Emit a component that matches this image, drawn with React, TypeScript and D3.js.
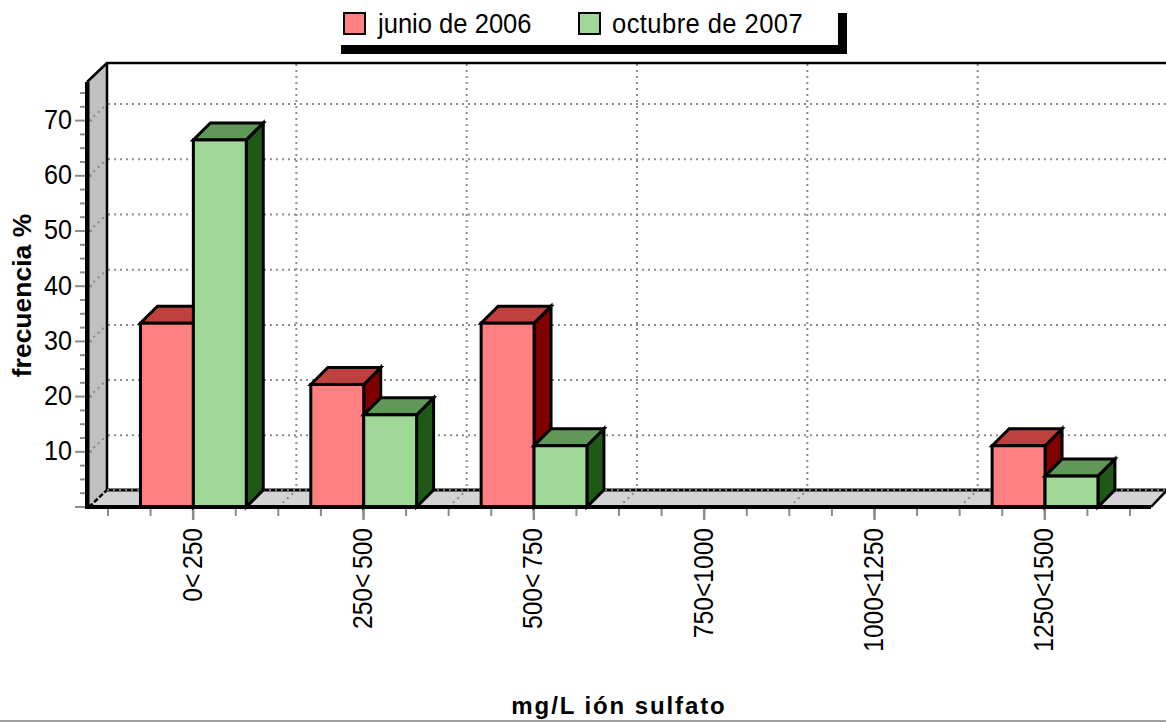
import React from "react";
import * as d3 from "d3";

const categories = ["0< 250", "250< 500", "500< 750", "750<1000", "1000<1250", "1250<1500"];
const seriesNames = ["junio de 2006", "octubre de 2007"];
const junio = [33.3, 22.2, 33.3, 0, 0, 11.1];
const octubre = [66.5, 16.7, 11.1, 0, 0, 5.6];
const majorTicks = [10, 20, 30, 40, 50, 60, 70];
const minorTicks = [2.5, 5, 7.5, 12.5, 15, 17.5, 22.5, 25, 27.5, 32.5, 35, 37.5, 42.5, 45, 47.5, 52.5, 55, 57.5, 62.5, 65, 67.5, 72.5, 75];
const colors = [
  { front: "#ff8080", top: "#c04040", side: "#800000" },
  { front: "#a0d898", top: "#609858", side: "#205818" },
];

const W = 1166, H = 722;
const DX = 17, DY = 17;
const x = d3.scaleBand<string>().domain(categories).range([108, 1130]);
const y = d3.scaleLinear().domain([0, 70]).range([507, 120.6]);
const inner = d3.scaleBand<number>().domain([0, 1]).range([-52.7, 53.1]);
const FONT = "'Liberation Sans', Arial, sans-serif";
const pts = (p: number[][]) => p.map((q) => q.join(",")).join(" ");
const grid = "#8c8c8c";

export default function App() {
  const edges = d3.range(categories.length + 1).map((i) => 108 + i * x.bandwidth());
  const xMinor = d3.range(0, 25).map((i) => 108 + (i * x.bandwidth()) / 4);
  const centers = categories.map((c) => (x(c) as number) + x.bandwidth() / 2);
  const series = [junio, octubre];
  return (
    <svg width={W} height={H} style={{ position: "absolute", left: 0, top: 0, background: "#fff" }} fontFamily={FONT}>
      {/* walls */}
      <polygon points={pts([[87, y(0)], [107, y(0) - DY], [107, 63], [87, 82]])} fill="#c0c0c0" />
      <polygon points={pts([[87, y(0)], [1151, y(0)], [1167, y(0) - DY], [107, y(0) - DY]])} fill="#d3d3d3" />
      {/* grid */}
      <g stroke={grid} strokeWidth={2} strokeDasharray="2 4" fill="none">
        {majorTicks.map((t) => (
          <g key={t}>
            <line x1={108} x2={W} y1={y(t) - 16.5} y2={y(t) - 16.5} />
            <line x1={89} x2={107} y1={y(t)} y2={y(t) - 16.5} />
          </g>
        ))}
        {edges.slice(1, 6).map((e) => (
          <g key={e}>
            <line x1={e + 18} x2={e + 18} y1={64} y2={490} />
            <line x1={e} x2={e + 18} y1={507} y2={490} />
          </g>
        ))}
      </g>
      {/* back edges */}
      <g fill="none" stroke="#000">
        <line x1={107} x2={107} y1={63} y2={490} strokeWidth={2.5} />
        <line x1={106} x2={W} y1={63} y2={63} strokeWidth={2.5} />
        <line x1={87} x2={107} y1={82} y2={63} strokeWidth={2.5} />
        <line x1={1151} x2={1167} y1={507} y2={490} strokeWidth={2.5} />
        <line x1={107} x2={W} y1={490} y2={490} strokeWidth={3} />
        <line x1={89} x2={107} y1={507} y2={490} strokeWidth={2.5} strokeDasharray="5 2" />
      </g>
      <line x1={107} x2={W} y1={490} y2={490} stroke="#9a9a9a" strokeWidth={1.5} strokeDasharray="2 4" />
      {/* axis ticks */}
      <g stroke={grid} strokeWidth={2}>
        {minorTicks.map((t) => <line key={t} x1={80} x2={86} y1={y(t)} y2={y(t)} />)}
        {majorTicks.map((t) => <line key={t} x1={75} x2={92} y1={y(t)} y2={y(t)} />)}
        <line x1={75} x2={92} y1={507} y2={507} />
        {xMinor.map((v) => <line key={v} x1={v} x2={v} y1={509} y2={516} />)}
        {centers.map((c) => <line key={c} x1={c} x2={c} y1={509} y2={520} strokeWidth={2.5} />)}
      </g>
      {/* bars */}
      <g stroke="#000" strokeWidth={3} strokeLinejoin="miter">
        {categories.map((c, i) =>
          series.map((vals, s) => {
            const v = vals[i];
            if (!v) return null;
            const l = centers[i] + (inner(s) as number);
            const r = l + inner.bandwidth();
            const t = y(v);
            const b = y(0);
            return (
              <g key={c + s}>
                <polygon points={pts([[r, t], [r + DX, t - DY], [r + DX, b - DY], [r, b]])} fill={colors[s].side} />
                <polygon points={pts([[l, t], [l + DX, t - DY], [r + DX, t - DY], [r, t]])} fill={colors[s].top} />
                <rect x={l} y={t} width={r - l} height={b - t} fill={colors[s].front} />
              </g>
            );
          })
        )}
      </g>
      {/* front axis */}
      <rect x={85} y={82} width={4.5} height={427} fill="#000" />
      <rect x={85} y={505} width={1066} height={4} fill="#000" />
      {/* tick labels */}
      <g fontSize={27.5} fill="#000">
        {majorTicks.map((t) => (
          <text key={t} transform={`translate(72,${y(t) - 1}) scale(0.915,1)`} textAnchor="end" dominantBaseline="central">{t}</text>
        ))}
      </g>
      <g fontSize={27.5} fill="#000" wordSpacing={-2.5}>
        {categories.map((c, i) => (
          <text key={c} transform={`translate(${centers[i] - 1},528) rotate(-90) scale(0.895,1)`} textAnchor="end" dominantBaseline="central">{c}</text>
        ))}
      </g>
      <text transform="translate(30.5,295.5) rotate(-90)" textAnchor="middle" fontSize={26.5} fontWeight="bold">frecuencia %</text>
      <text x={619} y={714} textAnchor="middle" fontSize={24} fontWeight="bold" letterSpacing={1.9}>mg/L ión sulfato</text>
      {/* legend */}
      <rect x={341} y={45} width={506} height={9} fill="#000" />
      <rect x={838} y={13} width={9} height={41} fill="#000" />
      {seriesNames.map((n, i) => {
        const sx = [344, 579][i];
        return (
          <g key={n}>
            <rect x={sx} y={13} width={21} height={21} fill={colors[i].front} stroke="#000" strokeWidth={2} />
            <text transform={`translate(${[378, 612][i]},33) scale(0.93,1)`} fontSize={27.5} letterSpacing={[0, 0.45][i]}>{n}</text>
          </g>
        );
      })}
      <line x1={0} x2={W} y1={721} y2={721} stroke="#a0a0a0" strokeWidth={2} />
    </svg>
  );
}
